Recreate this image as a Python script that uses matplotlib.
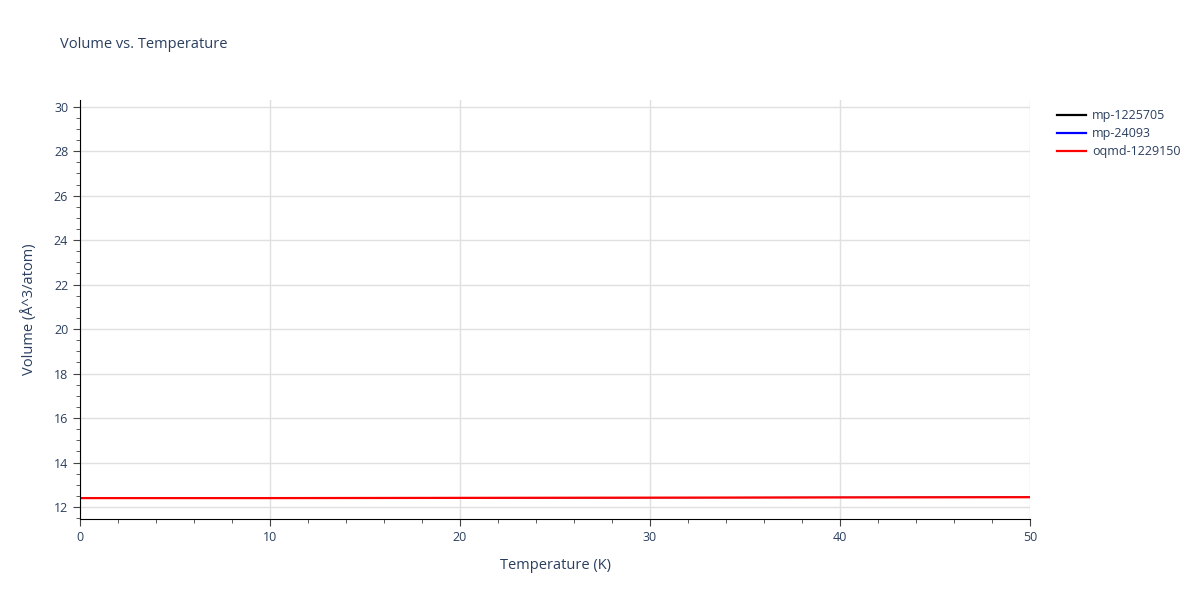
import matplotlib.pyplot as plt
from matplotlib.ticker import MultipleLocator
from matplotlib.lines import Line2D

temps = [0, 10, 20, 30, 40, 50]
vol_mp_1225705 = [12.40, 12.40, 12.41, 12.42, 12.43, 12.44]
vol_mp_24093 = [12.40, 12.40, 12.41, 12.42, 12.43, 12.44]
vol_oqmd_1229150 = [12.40, 12.40, 12.41, 12.42, 12.43, 12.44]

names = ['mp-1225705', 'mp-24093', 'oqmd-1229150']
colors = ['black', 'blue', 'red']

txt = '#2a3f5f'
plt.rcParams['font.family'] = ['Open Sans', 'DejaVu Sans']

fig = plt.figure(figsize=(12, 6), dpi=100)
ax = fig.add_axes([80/1200, 1-519/600, 950/1200, 419/600])

# the mp lines sit under the red one
ax.plot(temps, vol_mp_1225705, color=colors[0], lw=0.8)
ax.plot(temps, vol_mp_24093, color=colors[1], lw=0.8)
ax.plot(temps, vol_oqmd_1229150, color=colors[2], lw=1.6)

ax.set_xlim(0, 50)
ax.set_ylim(11.46, 30.3)
ax.xaxis.set_major_locator(MultipleLocator(10))
ax.xaxis.set_minor_locator(MultipleLocator(2))
ax.yaxis.set_major_locator(MultipleLocator(2))
ax.yaxis.set_minor_locator(MultipleLocator(0.5))
ax.grid(True, which='major', color='#e0e0e0', lw=1)
ax.set_axisbelow(True)
for s in ['top', 'right']:
    ax.spines[s].set_visible(False)
for s in ['left', 'bottom']:
    ax.spines[s].set_color('black')
ax.tick_params(which='major', direction='out', length=5, color='#444444', labelcolor=txt, labelsize=9)
ax.tick_params(which='minor', direction='out', length=3, color='#444444')

ax.set_xlabel('Temperature (K)', color=txt, fontsize=10.5, labelpad=10)
ax.set_ylabel('Volume (Å^3/atom)', color=txt, fontsize=10.5, labelpad=12)
fig.text(60/1200, 1-45/600, 'Volume vs. Temperature', color=txt, fontsize=10.5, va='center')

handles = [Line2D([], [], color=c, lw=1.6) for c in colors]
leg = fig.legend(handles, names, loc='upper left', bbox_to_anchor=(1046/1200, 1-98/600), frameon=False,
                 fontsize=9, handlelength=2.3, handletextpad=0.5, labelspacing=0.4)
for t in leg.get_texts():
    t.set_color(txt)

fig.savefig('out.png', dpi=100)
